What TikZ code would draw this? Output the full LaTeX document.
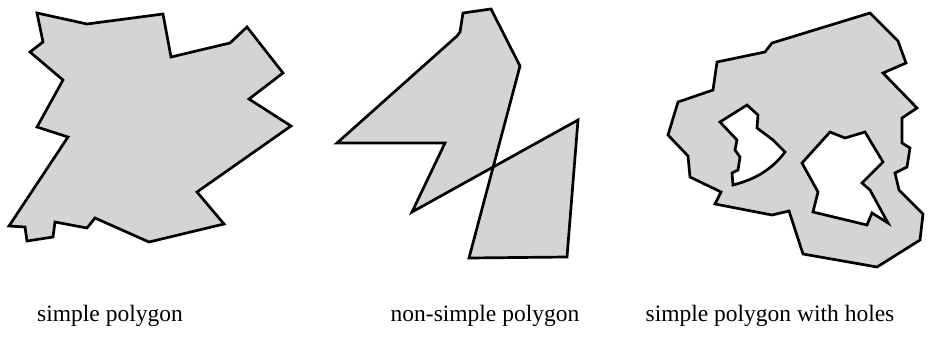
\documentclass[tikz,border=0pt]{standalone}
\usepackage{fontspec}
\setmainfont{Liberation Serif}
\usepackage{tikz}

\begin{document}
\begin{tikzpicture}[x=1pt, y=-1pt, font=\fontsize{23.5}{26}\selectfont,
    poly/.style={fill=black!17, draw=black, line width=2.7pt, line join=miter},
    hole/.style={fill=white, draw=black, line width=2.7pt, line join=miter},
    caption/.style={anchor=base, inner sep=0pt}]
  \useasboundingbox (0,0) rectangle (943,340);
  % simple polygon
  \draw[poly] (37,13) -- (87,24) -- (163,14) -- (171,57) -- (230,43) -- (247,27)
    -- (283,73) -- (249,99) -- (291,126) -- (197,192) -- (224,224) -- (149,242)
    -- (95,218) -- (87,228) -- (55,222) -- (53,237) -- (27,241) -- (25,227)
    -- (9,226) -- (68,137) -- (37,127) -- (63,80) -- (30,52) -- (43,42) -- cycle;
  % non-simple polygon
  \draw[poly] (463,13) -- (491,9) -- (520,66) -- (469,258) -- (567,257)
    -- (578,120) -- (412,212) -- (445,143) -- (337,143) -- (457,36)
    -- (460,32) -- cycle;
  % simple polygon with holes
  \draw[poly] (870,13) -- (898,41) -- (906,63) -- (883,73) -- (917,108)
    -- (902,118) -- (902,143) -- (910,148) -- (907,167) -- (895,173)
    -- (899,190) -- (923,214) -- (920,240) -- (877,267) -- (803,254)
    -- (789,211) -- (772,215) -- (715,204) -- (721,192) -- (690,177)
    -- (688,156) -- (668,135) -- (678,102) -- (713,90) -- (717,62)
    -- (765,52) -- (772,43) -- cycle;
  \draw[hole] (747,105) -- (758,115) -- (757,128) -- (773,140) -- (785,152)
    .. controls (770,172) and (752,180) .. (733,185) -- (732,173) -- (738,170)
    -- (740,157) -- (735,150) -- (737,140) -- (720,122) -- cycle;
  \draw[hole] (830,132) -- (845,138) -- (865,132) -- (883,162) -- (862,183)
    -- (870,190) -- (888,223) -- (872,213) -- (867,225) -- (813,212)
    -- (818,192) -- (802,163) -- cycle;
  % captions
  \node[caption] (simple) at (110,321) {simple polygon};
  \node[caption] (nonsimple) at (485,321) {non-simple polygon};
  \node[caption] (holes) at (770,321) {simple polygon with holes};
\end{tikzpicture}
\end{document}
